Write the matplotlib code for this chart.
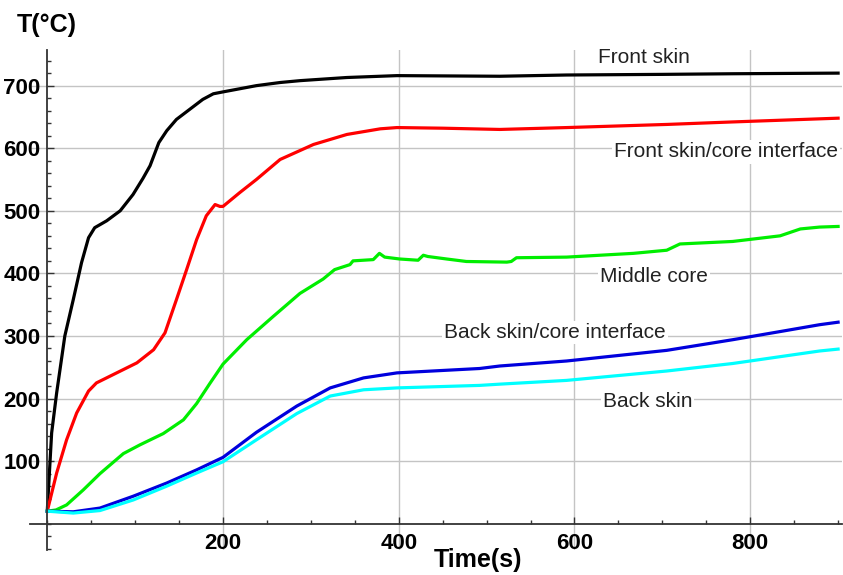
import matplotlib
matplotlib.use("Agg")
from matplotlib import pyplot as plt
from matplotlib.ticker import FixedLocator, MultipleLocator

plt.rcParams['font.family'] = ['Liberation Sans', 'DejaVu Sans']

# temperature histories, time in s, temperature in degC
t_front = [0, 5, 10.7, 20, 29.6, 39, 47, 54, 67.6, 83, 97.6, 109, 117, 127, 136, 147, 162, 177,
           189, 200, 238, 265, 288, 341, 398, 515, 591, 700, 780, 900]
T_front = [20, 145, 209, 300, 358, 417, 457, 473, 484, 500, 526, 552, 572, 609, 628, 646, 662, 678,
           687, 690, 700, 705, 708, 713, 716, 715, 717, 718, 719, 720]

t_front_if = [0, 10.7, 22, 33.5, 47, 56, 79, 102, 121, 134, 147, 158.6, 170, 181, 191, 196.5, 200,
              219, 238, 265, 303, 341, 379, 398, 450, 515, 591, 705, 780, 900]
T_front_if = [20, 81, 134, 177, 212, 225, 241, 257, 278, 305, 358, 406, 454, 492, 510, 507, 507,
              529, 550, 582, 606, 622, 631, 633, 632, 630, 633, 638, 642, 648]

t_middle = [0, 10, 22, 41, 60, 86.6, 105.5, 132, 155, 170, 185, 200, 227, 257, 287.6, 314, 327,
            344.5, 348, 371, 378, 384, 401, 422, 428, 433, 454.5, 477, 523, 528, 534, 591, 667,
            705, 720, 780, 834, 857, 879, 900]
T_middle = [20, 22, 30, 54, 80, 112, 126, 144, 166, 192, 224, 255, 294, 331, 368, 391, 406,
            414, 420, 422, 432, 426, 423, 421, 429, 427, 423, 419, 418, 419, 425, 426, 432,
            437, 447, 451, 460, 471, 474, 475]

t_back_if = [0, 29.6, 60, 98, 136, 170, 200, 238, 284, 322, 360, 398, 492, 515, 591, 705, 780,
             838, 879, 900]
T_back_if = [20, 19, 25, 44, 65, 86, 106, 146, 188, 217, 233, 241, 248, 252, 260, 277, 294,
             308, 318, 322]

t_back = [0, 29.6, 60, 98, 136, 170, 200, 238, 284, 322, 360, 398, 492, 515, 591, 705, 780,
          879, 900]
T_back = [20, 17, 21, 38, 60, 81, 99, 134, 176, 204, 214, 217, 221, 223, 229, 244, 256,
          276, 279]

labels = ["Front skin", "Front skin/core interface", "Middle core",
          "Back skin/core interface", "Back skin"]
label_xy = [(679, 745), (772, 594), (690, 395), (578, 306), (683, 195)]

fig = plt.figure(figsize=(8.43, 5.75), dpi=100)
ax = fig.add_axes([0.0352, 0.0435, 0.9642, 0.8696])

ax.plot(t_front, T_front, color="black", lw=2.3, solid_joinstyle="round")
ax.plot(t_front_if, T_front_if, color="#ff0000", lw=2.3, solid_joinstyle="round")
ax.plot(t_middle, T_middle, color="#00ee00", lw=2.3, solid_joinstyle="round")
ax.plot(t_back_if, T_back_if, color="#0000dd", lw=2.3, solid_joinstyle="round")
ax.plot(t_back, T_back, color="#00ffff", lw=2.3, solid_joinstyle="round")

for txt, (x, y) in zip(labels, label_xy):
    ax.text(x, y, txt, fontsize=15, ha="center", va="center", color="#222222",
            bbox=dict(facecolor="white", edgecolor="none", pad=1.5), zorder=5)

ax.set_xlim(-20, 905)
ax.set_ylim(-42, 757)

for s in ["top", "right"]:
    ax.spines[s].set_visible(False)
ax.spines["left"].set_position(("data", 0))
ax.spines["bottom"].set_position(("data", 0))
for s in ["left", "bottom"]:
    ax.spines[s].set_color("#333333")
    ax.spines[s].set_linewidth(1.3)

ax.xaxis.set_major_locator(FixedLocator([200, 400, 600, 800]))
ax.xaxis.set_minor_locator(MultipleLocator(50))
ax.yaxis.set_major_locator(FixedLocator([100, 200, 300, 400, 500, 600, 700]))
ax.yaxis.set_minor_locator(MultipleLocator(20))

ax.tick_params(which="both", direction="in", color="#333333", width=1.0)
ax.tick_params(which="major", length=5, labelsize=16)
ax.tick_params(which="minor", length=3)
ax.tick_params(axis="x", which="major", pad=7)
ax.tick_params(axis="y", which="major", pad=5)
plt.setp(ax.get_xticklabels() + ax.get_yticklabels(), fontweight="bold")

ax.grid(True, which="major", color="#c4c4c4", lw=1.0)
ax.set_axisbelow(True)

fig.text(17 / 843, 1 - 25 / 575, "T(°C)", fontsize=18, fontweight="bold",
         ha="left", va="center")
fig.text(478 / 843, 1 - 560 / 575, "Time(s)", fontsize=18, fontweight="bold",
         ha="center", va="center")

fig.savefig("out.png", dpi=100)
